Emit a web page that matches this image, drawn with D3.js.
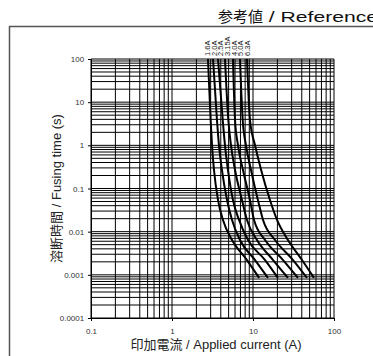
<!DOCTYPE html>
<html><head><meta charset="utf-8">
<script src="https://cdn.jsdelivr.net/npm/d3@7"></script>
<style>body{margin:0;background:#fff}svg{display:block}</style>
</head><body>
<script>
// ---- data ----
const fuseLabels = ["1.6A","2.0A","2.5A","3.15A","4.0A","5.0A","6.3A"];
const timePoints = [100, 3.86, 1.0, 0.268, 0.054, 0.0187, 0.0064, 0.0022, 0.00085];
const cur16  = [2.78, 3.00, 3.12, 3.30, 3.70, 4.26, 5.51, 8.43, 11.9];
const cur20  = [3.21, 3.59, 3.80, 4.14, 4.78, 5.51, 6.91, 10.6, 15.3];
const cur25  = [3.70, 4.23, 4.51, 4.91, 5.66, 6.72, 8.68, 14.1, 20.3];
const cur315 = [4.51, 4.96, 5.35, 6.00, 7.31, 8.43, 11.2, 17.7, 27.0];
const cur40  = [5.66, 6.00, 6.53, 7.52, 9.18, 10.3, 14.1, 23.5, 35.9];
const cur50  = [6.91, 7.46, 8.19, 9.45, 11.5, 13.3, 18.7, 31.2, 46.4];
const cur63  = [8.43, 9.18, 10.6, 12.6, 16.2, 19.8, 27.0, 40.3, 56.6];
const seriesCurrents = [cur16, cur20, cur25, cur315, cur40, cur50, cur63];
const xTickValues = [0.1, 1, 10, 100];
const xTickLabels = ["0.1", "1", "10", "100"];
const yTickValues = [0.0001, 0.001, 0.01, 0.1, 1, 10, 100];
const yTickLabels = ["0.0001", "0.001", "0.01", "0.1", "1", "10", "100"];
const titleCJK = "参考値";
const titleLatin = " / Reference";
const xTitle = "印加電流 / Applied current (A)";
const yTitle = "溶断時間 / Fusing time (s)";

(function () {
// ---- layout ----
const W = 373, H = 356;
const pL = 91, pR = 334, pT = 59, pB = 318;
const svg = d3.select("body").append("svg").attr("width", W).attr("height", H);
const font = "Arial, 'Liberation Sans', 'Noto Sans CJK JP', sans-serif";

const x = d3.scaleLog().domain([0.1, 100]).range([pL, pR]);
const y = d3.scaleLog().domain([0.0001, 100]).range([pB, pT]);

// outer frame
svg.append("rect").attr("x", 9.5).attr("y", 26.5).attr("width", 420).attr("height", 400)
  .attr("fill", "none").attr("stroke", "#555").attr("stroke-width", 1.5);

// title
const tt = svg.append("text").attr("x", 218).attr("y", 22)
  .attr("font-family", font).attr("font-size", 15).attr("fill", "#111");
tt.append("tspan").text(titleCJK);
tt.append("tspan").attr("x", 263).attr("textLength", 115).attr("lengthAdjust", "spacingAndGlyphs")
  .text(titleLatin);

// grid
const minorVals = (lo, hi) => {
  const v = [];
  for (let e = lo; e < hi; e++) for (let m = 1; m <= 9; m++) v.push(m * Math.pow(10, e));
  v.push(Math.pow(10, hi));
  return v;
};
const g = svg.append("g");
g.selectAll("line.v").data(minorVals(-1, 2)).join("line").attr("class", "v")
  .attr("x1", d => x(d)).attr("x2", d => x(d)).attr("y1", pT).attr("y2", pB)
  .attr("stroke", "#000").attr("stroke-width", 1);
g.selectAll("line.h").data(minorVals(-4, 2)).join("line").attr("class", "h")
  .attr("y1", d => y(d)).attr("y2", d => y(d)).attr("x1", pL).attr("x2", pR)
  .attr("stroke", "#000").attr("stroke-width", 1);

// axes
const xAxis = d3.axisBottom(x).tickValues(xTickValues).tickSize(3)
  .tickFormat((d, i) => xTickLabels[i]);
const yAxis = d3.axisLeft(y).tickValues(yTickValues).tickSize(3)
  .tickFormat((d, i) => yTickLabels[i]);
const gx = svg.append("g").attr("transform", `translate(0,${pB})`).call(xAxis);
const gy = svg.append("g").attr("transform", `translate(${pL},0)`).call(yAxis);
[gx, gy].forEach(a => {
  a.select(".domain").attr("stroke", "#000");
  a.selectAll(".tick line").attr("stroke", "#000");
  a.selectAll("text").attr("font-family", font).attr("font-size", 8).attr("fill", "#333");
});
gx.selectAll("text").attr("dy", "1.2em");
gy.selectAll("text").attr("dx", "-0.1em");

// curves
const line = d3.line().curve(d3.curveMonotoneX);
svg.append("g").selectAll("path").data(seriesCurrents).join("path")
  .attr("d", cs => line(cs.map((c, i) => [x(c), y(timePoints[i])])))
  .attr("fill", "none").attr("stroke", "#000").attr("stroke-width", 2);

// fuse labels (rotated)
const lx = d3.scalePoint().domain(fuseLabels).range([x(cur16[0]) - 1, x(cur16[0]) + 39]);
svg.append("g").selectAll("text").data(fuseLabels).join("text")
  .attr("transform", d => `translate(${lx(d) + 3},${pT - 3}) rotate(-90)`)
  .text(d => d).attr("font-family", font).attr("font-size", 7.5).attr("fill", "#222");

// axis titles
svg.append("text").attr("x", 216).attr("y", 349).attr("text-anchor", "middle")
  .text(xTitle).attr("font-family", font).attr("font-size", 13).attr("fill", "#222");
svg.append("text").attr("transform", `translate(61,${(pT + pB) / 2}) rotate(-90)`)
  .attr("text-anchor", "middle").text(yTitle)
  .attr("font-family", font).attr("font-size", 13).attr("fill", "#222");
})();
</script>
</body></html>
